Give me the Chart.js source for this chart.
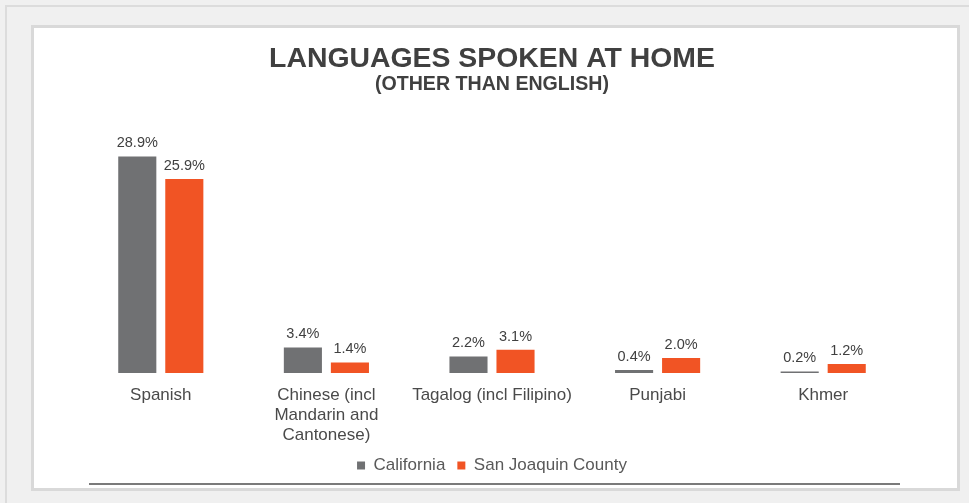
<!DOCTYPE html>
<html>
<head>
<meta charset="utf-8">
<script src="https://cdn.jsdelivr.net/npm/chart.js@4.4.1/dist/chart.umd.min.js"></script>
<style>
  html, body { margin: 0; padding: 0; background: #f0f0f0; width: 969px; height: 503px; overflow: hidden; }
  #outer { position: absolute; left: 5px; top: 5px; width: 980px; height: 520px; border: 2px solid #dcdcdc; box-sizing: border-box; }
  #panel { position: absolute; left: 31px; top: 25px; width: 929px; height: 466px; background: #fff; border: 3px solid #d9d9d9; box-sizing: border-box; }
  #wrap { position: absolute; left: 34px; top: 28px; width: 923px; height: 460px; }
  #rule { position: absolute; left: 89px; top: 483px; width: 811px; height: 2px; background: #7a7a7a; }
</style>
</head>
<body>
<div id="outer"></div>
<div id="panel"></div>
<div id="wrap"><canvas id="c" width="923" height="460"></canvas></div>
<div id="rule"></div>
<script>
const categories = [["Spanish"], ["Chinese (incl", "Mandarin and", "Cantonese)"], ["Tagalog (incl Filipino)"], ["Punjabi"], ["Khmer"]];
const seriesNames = ["California", "San Joaquin County"];
const california = [28.9, 3.4, 2.2, 0.4, 0.2];
const sanJoaquin = [25.9, 1.4, 3.1, 2.0, 1.2];
const colors = ["#707173", "#f15424"];

const valueLabels = {
  id: 'valueLabels',
  afterDatasetsDraw(chart) {
    const ctx = chart.ctx;
    ctx.save();
    ctx.font = '14.5px "Liberation Sans", Arial, sans-serif';
    ctx.fillStyle = '#404040';
    ctx.textAlign = 'center';
    ctx.textBaseline = 'bottom';
    chart.data.datasets.forEach((ds, i) => {
      const meta = chart.getDatasetMeta(i);
      meta.data.forEach((bar, j) => {
        ctx.fillText(ds.data[j].toFixed(1) + '%', bar.x, bar.y - 6);
      });
    });
    ctx.restore();
  }
};

new Chart(document.getElementById('c'), {
  type: 'bar',
  data: {
    labels: categories,
    datasets: [
      { label: seriesNames[0], data: california, backgroundColor: colors[0] },
      { label: seriesNames[1], data: sanJoaquin, backgroundColor: colors[1] }
    ]
  },
  options: {
    responsive: false,
    animation: false,
    devicePixelRatio: 1,
    categoryPercentage: 0.568,
    barPercentage: 0.81,
    layout: { padding: { left: 44, right: 51, top: 0, bottom: 4 } },
    scales: {
      x: {
        grid: { display: false, drawTicks: false },
        border: { display: false },
        afterFit(scale) { scale.height = 72; },
        ticks: {
          color: '#4a4a4a',
          font: { family: '"Liberation Sans", Arial, sans-serif', size: 17, lineHeight: 1.18 },
          padding: 12,
          maxRotation: 0,
          autoSkip: false
        }
      },
      y: { display: false, min: 0, max: 30 }
    },
    plugins: {
      title: {
        display: true,
        text: 'LANGUAGES SPOKEN AT HOME',
        color: '#404040',
        font: { family: '"Liberation Sans", Arial, sans-serif', size: 28.4, weight: 'bold', lineHeight: 0.94 },
        padding: { top: 18, bottom: 0 }
      },
      subtitle: {
        display: true,
        text: '(OTHER THAN ENGLISH)',
        color: '#404040',
        font: { family: '"Liberation Sans", Arial, sans-serif', size: 19.6, weight: 'bold', lineHeight: 1.2 },
        padding: { top: 0, bottom: 52 }
      },
      legend: {
        position: 'bottom',
        labels: {
          color: '#595959',
          font: { family: '"Liberation Sans", Arial, sans-serif', size: 17 },
          boxWidth: 8,
          boxHeight: 8,
          padding: 12
        }
      },
      tooltip: { enabled: false }
    }
  },
  plugins: [valueLabels]
});
</script>
</body>
</html>
